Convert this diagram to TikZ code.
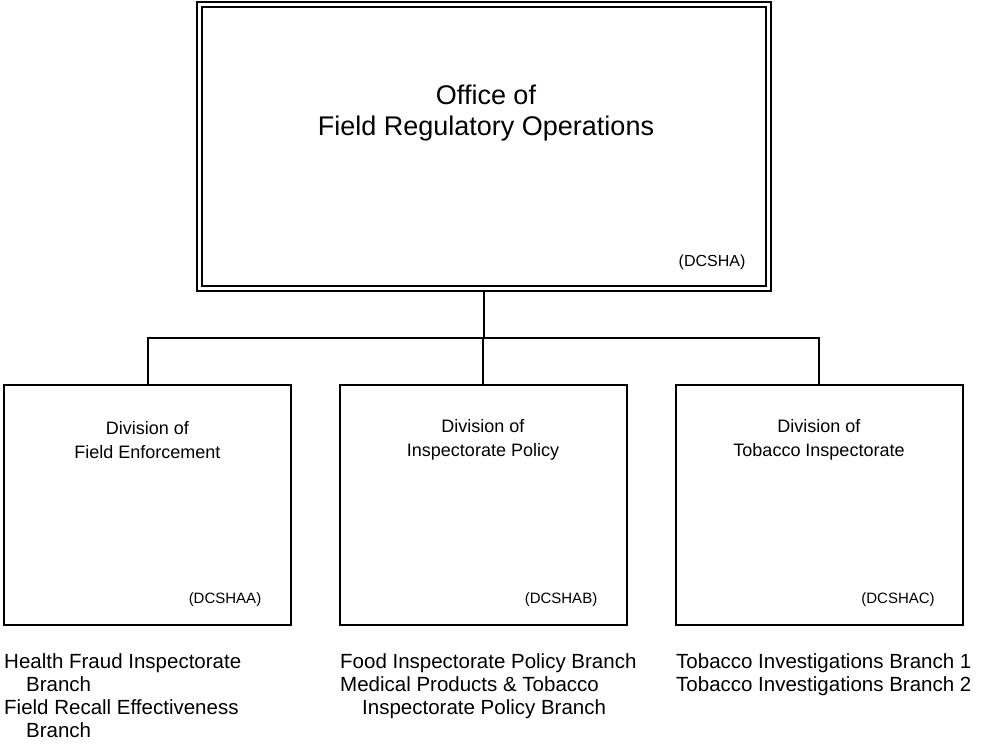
\documentclass[tikz,border=0pt]{standalone}
\usepackage{fontspec}
\setmainfont{Liberation Sans}
\begin{document}
\begin{tikzpicture}[x=1pt,y=-1pt,
  box/.style={draw=black, line width=2pt, minimum width=287pt, minimum height=240pt, inner sep=0pt},
  topbox/.style={draw=black, line width=2pt, double=white, double distance=3pt, minimum width=569pt, minimum height=284pt, inner sep=0pt},
  conn/.style={line width=2pt},
  title/.style={align=center, inner sep=0pt, font=\fontsize{18}{24}\selectfont},
  toptitle/.style={align=center, inner sep=0pt, font=\fontsize{27}{31}\selectfont},
  code/.style={inner sep=0pt, font=\fontsize{15}{18}\selectfont},
  branch/.style={align=left, anchor=north west, inner sep=0pt, font=\fontsize{20.5}{23}\selectfont}
]
\useasboundingbox (0,0) rectangle (982,749);
\node[topbox] (top) at (484,146.5) {};
\node[toptitle] (toptext) at (486,113) {Office of\\Field Regulatory Operations};
\node[code, font=\fontsize{16}{19}\selectfont] (topcode) at (712,262) {(DCSHA)};

\node[box] (c1) at (147.5,505) {};
\node[box] (c2) at (483,505) {};
\node[box] (c3) at (819,505) {};

\node[title] (t1) at (147.5,440) {Division of\\Field Enforcement};
\node[title] (t2) at (483,440) {Division of\\Inspectorate Policy};
\node[title] (t3) at (819,440) {Division of\\Tobacco Inspectorate};

\node[code] (k1) at (225,600) {(DCSHAA)};
\node[code] (k2) at (561,600) {(DCSHAB)};
\node[code] (k3) at (898,600) {(DCSHAC)};

\coordinate (j) at (484,338);
\draw[conn] (top.south) -- (j);
\draw[conn] (c1.north) -- (c1.north |- j) -- (c3.north |- j) -- (c3.north);
\draw[conn] (c2.north) -- (c2.north |- j);

\node[branch] (b1) at (4,653) {Health Fraud Inspectorate\\\hspace*{22pt}Branch\\Field Recall Effectiveness\\\hspace*{22pt}Branch};
\node[branch] (b2) at (340,653) {Food Inspectorate Policy Branch\\Medical Products \& Tobacco\\\hspace*{22pt}Inspectorate Policy Branch};
\node[branch] (b3) at (676,653) {Tobacco Investigations Branch 1\\Tobacco Investigations Branch 2};
\end{tikzpicture}
\end{document}
